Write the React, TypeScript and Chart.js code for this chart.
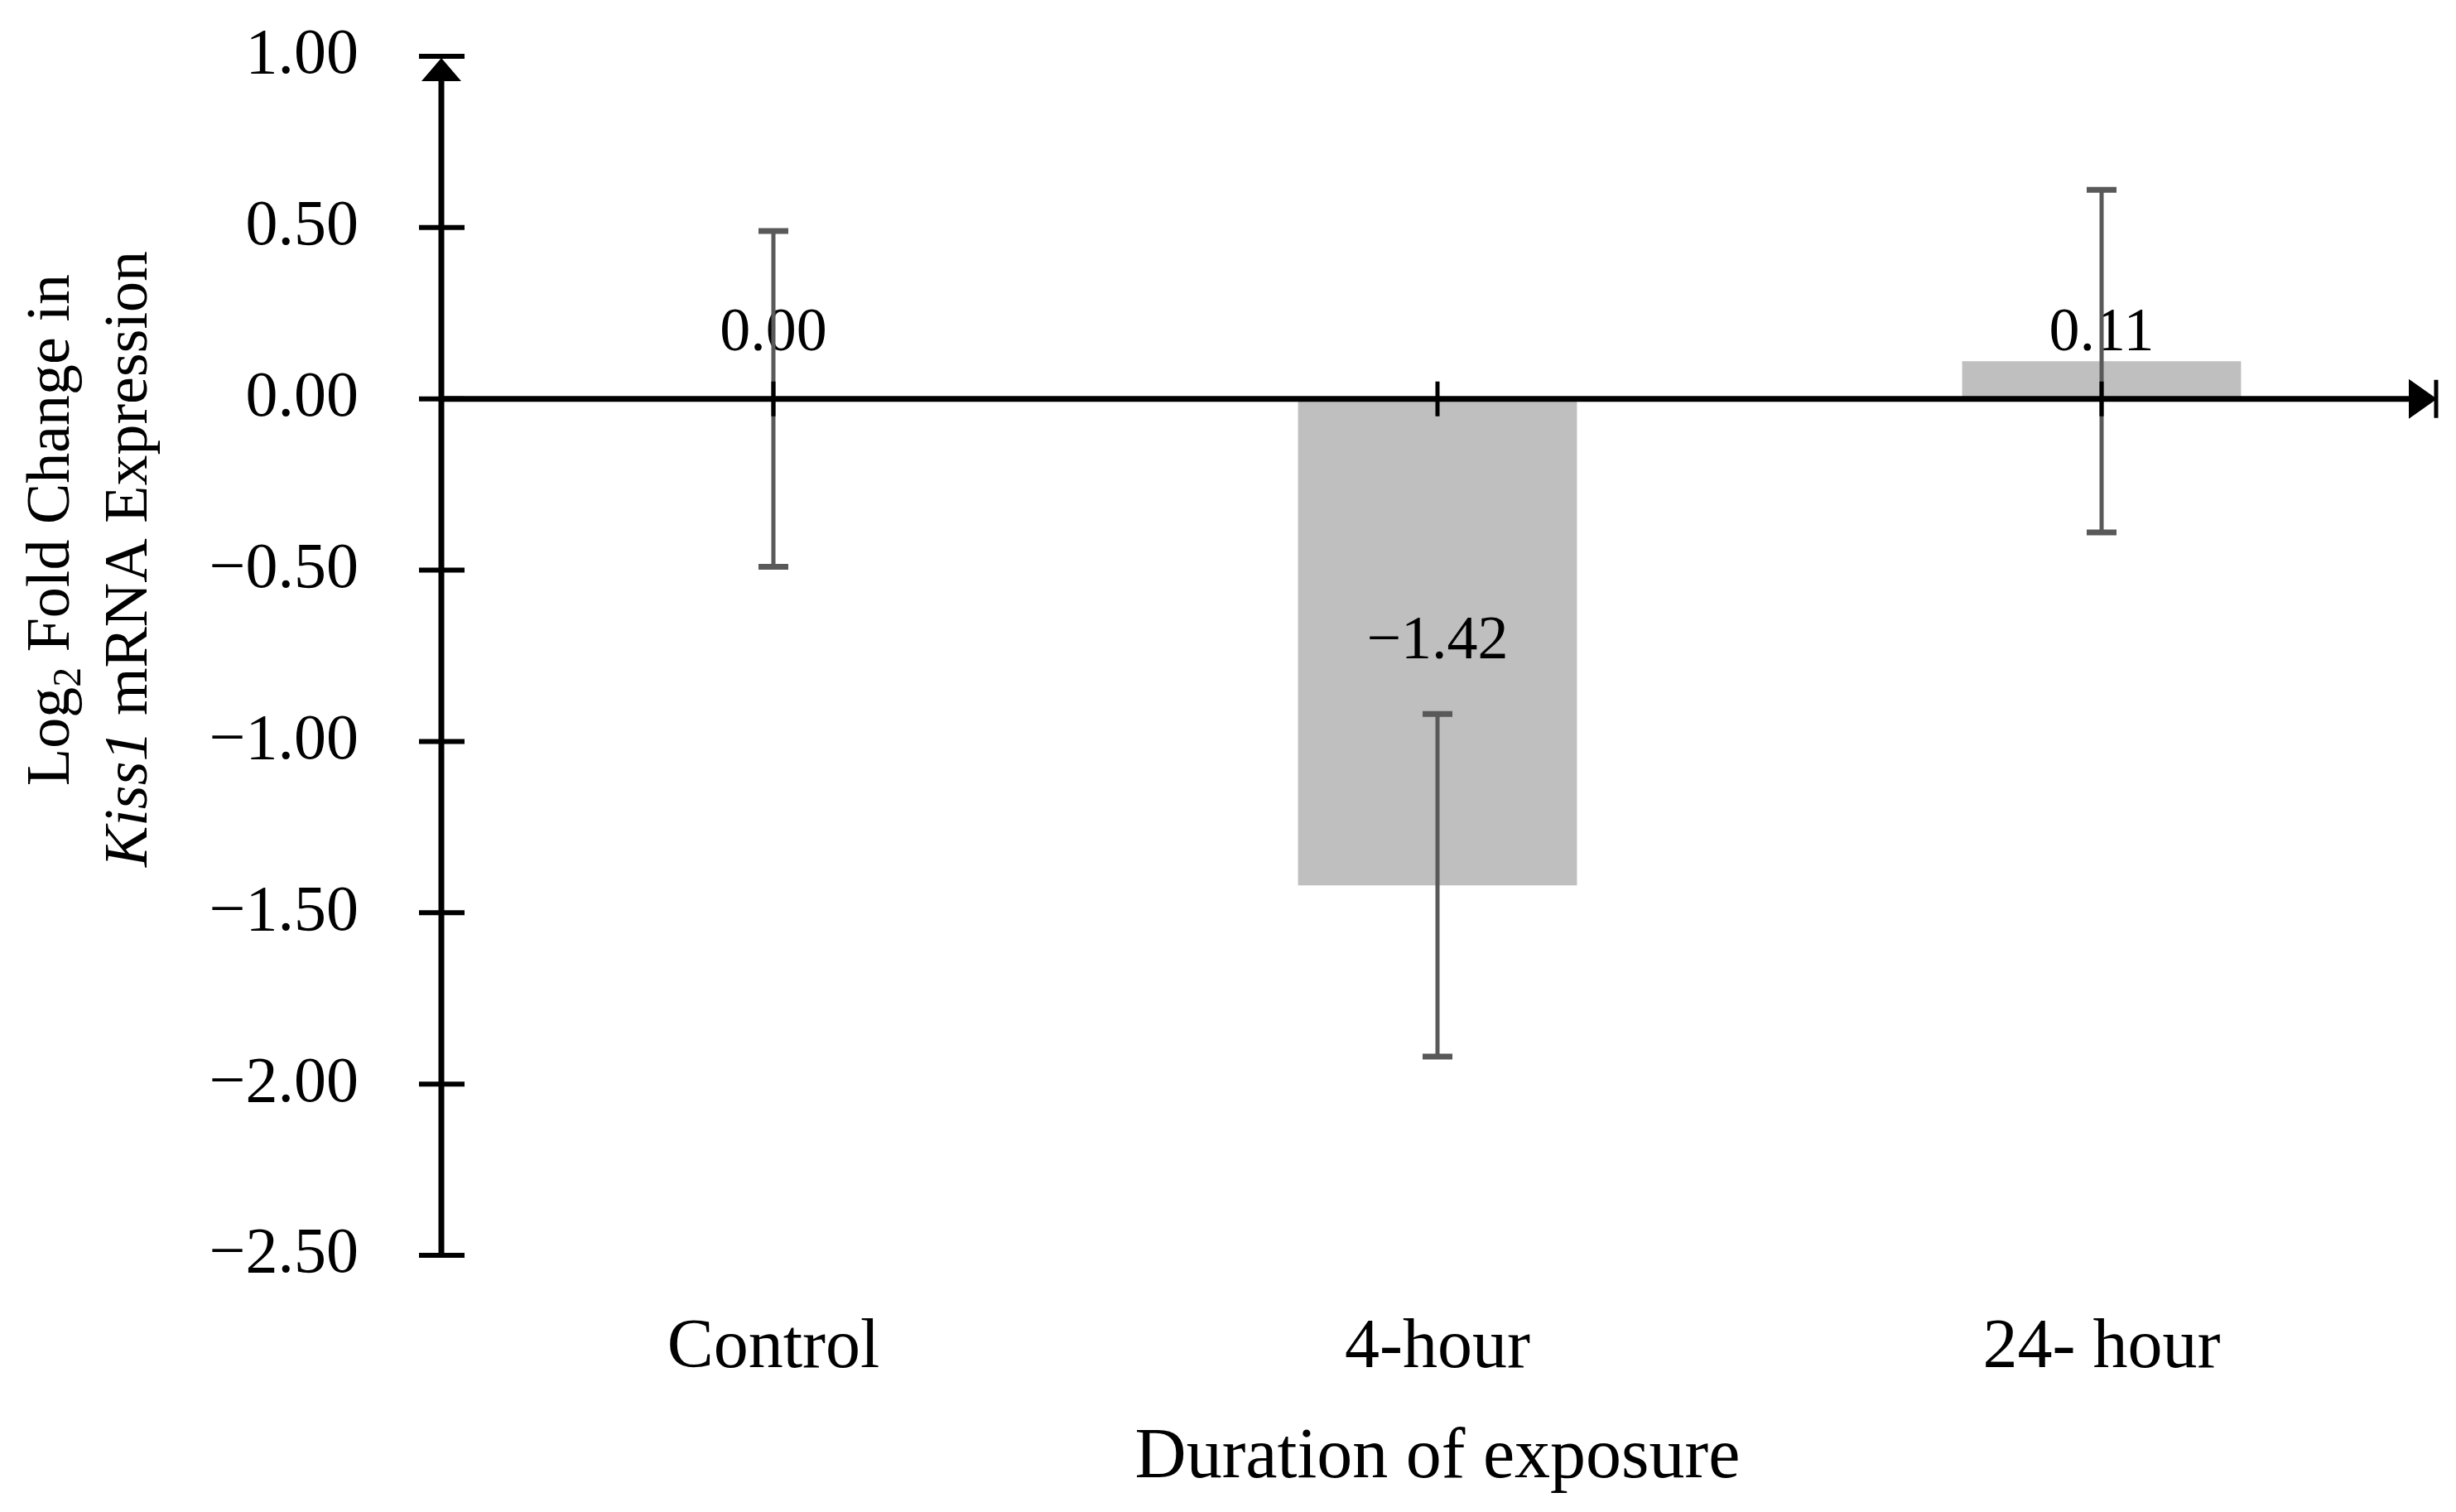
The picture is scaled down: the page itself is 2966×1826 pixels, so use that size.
import { useEffect, useRef } from 'react';
import { Chart, registerables } from 'chart.js';
import type { Plugin } from 'chart.js';

Chart.register(...registerables);

// datos del gráfico
const categories = ['Control', '4-hour', '24- hour'];
const foldChange = [0.0, -1.42, 0.11];
const errorSize = [0.49, 0.5, 0.5];
// altura (en unidades del eje) donde va cada etiqueta de valor
const labelAnchor = [0.19, -0.71, 0.19];

const FONT = "'Liberation Serif', 'Times New Roman', serif";

const fmt = (v: number) => {
  const s = Number(v).toFixed(2);
  return s.startsWith('-') ? '\u2212' + s.slice(1) : s;
};

type Run = { text: string; font: string; dy?: number };

const drawRotatedLine = (ctx: CanvasRenderingContext2D, runs: Run[], baseX: number, centerY: number) => {
  let total = 0;
  runs.forEach(r => {
    ctx.font = r.font;
    total += ctx.measureText(r.text).width;
  });
  ctx.save();
  ctx.translate(baseX, centerY);
  ctx.rotate(-Math.PI / 2);
  ctx.textAlign = 'left';
  ctx.textBaseline = 'alphabetic';
  let cx = -total / 2;
  runs.forEach(r => {
    ctx.font = r.font;
    ctx.fillText(r.text, cx, r.dy || 0);
    cx += ctx.measureText(r.text).width;
  });
  ctx.restore();
};

const decorPlugin: Plugin<'bar'> = {
  id: 'decor',
  afterDatasetsDraw(chart) {
    const { ctx, chartArea } = chart;
    const x = chart.scales.x;
    const y = chart.scales.y;
    const meta = chart.getDatasetMeta(0);
    const left = chartArea.left;
    const right = chartArea.right;
    const zero = y.getPixelForValue(0);

    ctx.save();

    // etiquetas de valor
    ctx.fillStyle = '#000';
    ctx.font = `74px ${FONT}`;
    ctx.textAlign = 'center';
    ctx.textBaseline = 'middle';
    meta.data.forEach((bar: any, i) => {
      ctx.fillText(fmt(foldChange[i]), bar.x, y.getPixelForValue(labelAnchor[i]));
    });

    // barras de error
    ctx.strokeStyle = '#595959';
    ctx.lineCap = 'butt';
    meta.data.forEach((bar: any, i) => {
      const top = y.getPixelForValue(foldChange[i] + errorSize[i]);
      const bot = y.getPixelForValue(foldChange[i] - errorSize[i]);
      ctx.lineWidth = 5;
      ctx.beginPath();
      ctx.moveTo(bar.x, top);
      ctx.lineTo(bar.x, bot);
      ctx.stroke();
      ctx.lineWidth = 7;
      ctx.beginPath();
      ctx.moveTo(bar.x - 18, top);
      ctx.lineTo(bar.x + 18, top);
      ctx.moveTo(bar.x - 18, bot);
      ctx.lineTo(bar.x + 18, bot);
      ctx.stroke();
    });

    // ejes
    ctx.strokeStyle = '#000';
    ctx.fillStyle = '#000';
    ctx.lineWidth = 7;
    ctx.beginPath();
    ctx.moveTo(left, chartArea.top + 10);
    ctx.lineTo(left, chartArea.bottom);
    ctx.moveTo(left, zero);
    ctx.lineTo(right - 10, zero);
    ctx.stroke();

    // marcas del eje y
    ctx.lineWidth = 6;
    ctx.beginPath();
    y.ticks.forEach(t => {
      const py = y.getPixelForValue(t.value);
      ctx.moveTo(left - 27, py);
      ctx.lineTo(left + 28, py);
    });
    ctx.stroke();

    // marcas del eje x en el centro de cada categoría
    ctx.lineWidth = 5;
    ctx.beginPath();
    categories.forEach((_, i) => {
      const px = x.getPixelForValue(i);
      ctx.moveTo(px, zero - 21);
      ctx.lineTo(px, zero + 21);
    });
    ctx.moveTo(right + 3, zero - 23);
    ctx.lineTo(right + 3, zero + 23);
    ctx.stroke();

    // flechas
    ctx.beginPath();
    ctx.moveTo(left, chartArea.top + 2);
    ctx.lineTo(left - 24, chartArea.top + 30);
    ctx.lineTo(left + 24, chartArea.top + 30);
    ctx.closePath();
    ctx.fill();
    ctx.beginPath();
    ctx.moveTo(right + 4, zero);
    ctx.lineTo(right - 30, zero - 24);
    ctx.lineTo(right - 30, zero + 24);
    ctx.closePath();
    ctx.fill();

    ctx.restore();
  },
  afterDraw(chart) {
    const { ctx } = chart;
    ctx.save();
    ctx.fillStyle = '#000';
    drawRotatedLine(ctx, [
      { text: 'Log', font: `74px ${FONT}` },
      { text: '2', font: `48px ${FONT}`, dy: 14 },
      { text: ' Fold Change in', font: `74px ${FONT}` },
    ], 83, 640);
    drawRotatedLine(ctx, [
      { text: 'Kiss1', font: `italic 74px ${FONT}` },
      { text: ' mRNA Expression', font: `74px ${FONT}` },
    ], 177, 675);
    ctx.restore();
  },
};

export default function App() {
  const chartRef = useRef<HTMLCanvasElement>(null);
  const chartInstance = useRef<Chart | null>(null);

  useEffect(() => {
    if (!chartRef.current) return;
    const ctx = chartRef.current.getContext('2d');
    if (!ctx) return;

    if (chartInstance.current) {
      chartInstance.current.destroy();
    }

    chartInstance.current = new Chart(ctx, {
      type: 'bar',
      data: {
        labels: categories,
        datasets: [{
          data: foldChange,
          backgroundColor: '#bfbfbf',
          borderWidth: 0,
          barPercentage: 0.42,
          categoryPercentage: 1,
        }]
      },
      options: {
        responsive: true,
        maintainAspectRatio: false,
        animation: false,
        layout: { padding: { top: 68, right: 27, left: 0, bottom: 0 } },
        plugins: {
          legend: { display: false },
          tooltip: { enabled: false },
        },
        scales: {
          x: {
            grid: { display: false, drawTicks: false },
            border: { display: false },
            ticks: { color: '#000', font: { family: FONT, size: 84 }, padding: 63 },
            title: {
              display: true,
              text: 'Duration of exposure',
              color: '#000',
              font: { family: FONT, size: 86 },
              padding: { top: 0, bottom: 13 },
            },
            afterFit: (scale: any) => { scale.height = 310; },
          },
          y: {
            min: -2.5,
            max: 1,
            grid: { display: false, drawTicks: false },
            border: { display: false },
            ticks: {
              stepSize: 0.5,
              color: '#000',
              font: { family: FONT, size: 78 },
              padding: 100,
              callback: (v) => fmt(Number(v)),
            },
            afterFit: (scale: any) => {
              scale.width = 533;
              scale.paddingTop = 0;
              scale.paddingBottom = 0;
            },
          },
        },
      },
      plugins: [decorPlugin],
    });

    return () => {
      if (chartInstance.current) {
        chartInstance.current.destroy();
        chartInstance.current = null;
      }
    };
  }, []);

  return (
    <div style={{ position: 'absolute', left: 0, top: 0, width: 2966, height: 1826, background: '#fff' }}>
      <canvas ref={chartRef}></canvas>
    </div>
  );
}
